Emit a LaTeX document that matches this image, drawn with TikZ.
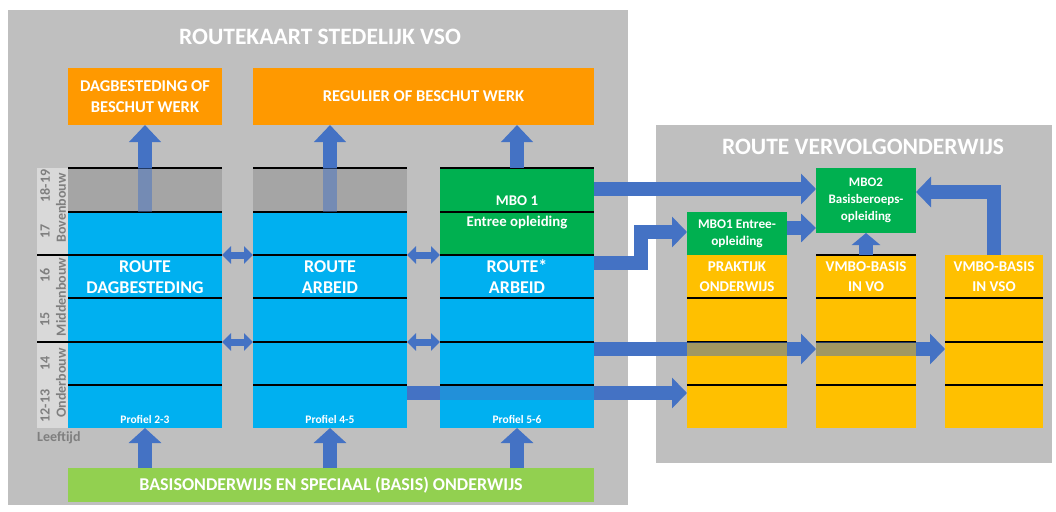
\documentclass[tikz,border=0pt]{standalone}
\usepackage{fontspec}
\setmainfont{Carlito}
\usetikzlibrary{arrows.meta}
\definecolor{panel}{HTML}{BFBFBF}
\definecolor{darkrow}{HTML}{A5A5A5}
\definecolor{skyb}{HTML}{00B0F0}
\definecolor{orng}{HTML}{FF9900}
\definecolor{ylw}{HTML}{FFC000}
\definecolor{grn}{HTML}{00B050}
\definecolor{lgrn}{HTML}{92D050}
\definecolor{arr}{HTML}{4472C4}
\definecolor{strip}{HTML}{D9D9D9}
\definecolor{agetxt}{HTML}{7F7F7F}
\begin{document}
\begin{tikzpicture}[x=1pt,y=-1pt,
  rect/.style={anchor=north west, inner sep=0pt, outer sep=0pt, draw=none},
  wtxt/.style={text=white, font=\bfseries, align=center, inner sep=0pt},
  rowline/.style={draw=black, line width=1.3pt},
  bigarr/.style={draw=arr, line width=14pt, line join=miter, -{Triangle[width=30pt,length=15pt]}},
  shaft/.style={draw=arr, line width=14pt},
  dblarr/.style={draw=arr, line width=7pt, {Triangle[width=17pt,length=9pt]}-{Triangle[width=17pt,length=9pt]}},
  band/.style={fill=arr, fill opacity=0.5},
  agelbl/.style={text=agetxt, font=\bfseries\fontsize{14}{16}\selectfont, rotate=90, inner sep=0pt}]
\useasboundingbox (0,0) rectangle (1056,511);
\fill[white] (0,0) rectangle (1056,511);
% panels
\node[rect, fill=panel, minimum width=620pt, minimum height=495pt] (lp) at (8,10) {};
\node[rect, fill=panel, minimum width=396pt, minimum height=338pt] (rp) at (656,125) {};
\node[wtxt, font=\bfseries\fontsize{23.5}{27}\selectfont] (t1) at (320,37) {ROUTEKAART STEDELIJK VSO};
\node[wtxt, font=\bfseries\fontsize{23.5}{27}\selectfont] (t2) at (863,147) {ROUTE VERVOLGONDERWIJS};
% orange boxes
\node[rect, fill=orng, minimum width=154pt, minimum height=57pt] (o1) at (68,68) {};
\node[rect, fill=orng, minimum width=341pt, minimum height=57pt] (o2) at (253,68) {};
\node[wtxt, font=\bfseries\fontsize{16.5}{21}\selectfont] at (o1.center) {DAGBESTEDING OF\\BESCHUT WERK};
\node[wtxt, font=\bfseries\fontsize{16.5}{21}\selectfont] at (o2.center) {REGULIER OF BESCHUT WERK};
% age strip
\node[rect, fill=strip, minimum width=31pt, minimum height=260pt] (st) at (37,168) {};
% columns
\node[rect, fill=skyb, minimum width=154pt, minimum height=260pt] (c1) at (68,168) {};
\node[rect, fill=skyb, minimum width=154pt, minimum height=260pt] (c2) at (253,168) {};
\node[rect, fill=skyb, minimum width=154pt, minimum height=260pt] (c3) at (440,168) {};
\node[rect, fill=darkrow, minimum width=154pt, minimum height=44pt] (g1) at (68,168) {};
\node[rect, fill=darkrow, minimum width=154pt, minimum height=44pt] (g2) at (253,168) {};
\node[rect, fill=grn, minimum width=154pt, minimum height=87pt] (g3) at (440,168) {};
\foreach \y in {168,212,255,298,342,385} {
  \draw[rowline] (68,\y) -- (222,\y);
  \draw[rowline] (253,\y) -- (407,\y);
  \draw[rowline] (440,\y) -- (594,\y);
}
\draw[rowline] (st.west |- 0,255) -- (68,255);
\draw[rowline] (st.west |- 0,342) -- (68,342);
% age labels
\node[agelbl] at (45,186) {18-19};
\node[agelbl] at (45,231) {17};
\node[agelbl] at (45,275) {16};
\node[agelbl] at (45,319) {15};
\node[agelbl] at (45,363) {14};
\node[agelbl] at (45,406) {12-13};
\node[agelbl] at (61,208) {Bovenbouw};
\node[agelbl] at (61,297) {Middenbouw};
\node[agelbl] at (61,383) {Onderbouw};
\node[text=agetxt, font=\bfseries\fontsize{14}{16}\selectfont, anchor=west, inner sep=0pt] at (37,438) {Leeftijd};
% column texts
\node[wtxt, font=\bfseries\fontsize{18}{21}\selectfont] at (145,277) {ROUTE\\DAGBESTEDING};
\node[wtxt, font=\bfseries\fontsize{18}{21}\selectfont] at (330,277) {ROUTE\\ARBEID};
\node[wtxt, font=\bfseries\fontsize{18}{21}\selectfont] at (517,277) {ROUTE*\\ARBEID};
\node[wtxt, font=\bfseries\fontsize{14.8}{21}\selectfont] at (517,212) {MBO 1\\Entree opleiding};
\node[wtxt, font=\bfseries\fontsize{11.5}{13}\selectfont] at (145,419) {Profiel 2-3};
\node[wtxt, font=\bfseries\fontsize{11.5}{13}\selectfont] at (330,419) {Profiel 4-5};
\node[wtxt, font=\bfseries\fontsize{11.5}{13}\selectfont] at (517,419) {Profiel 5-6};
% bottom box
\node[rect, fill=lgrn, minimum width=526pt, minimum height=34pt] (b) at (68,468) {};
\node[wtxt, font=\bfseries\fontsize{18}{21}\selectfont] at (b.center) {BASISONDERWIJS EN SPECIAAL (BASIS) ONDERWIJS};
% right columns
\node[rect, fill=ylw, minimum width=100pt, minimum height=173pt] (p) at (687,255) {};
\node[rect, fill=ylw, minimum width=100pt, minimum height=173pt] (v) at (816,255) {};
\node[rect, fill=ylw, minimum width=98pt, minimum height=173pt] (s) at (945,255) {};
\foreach \y in {298,342,385} {
  \draw[rowline] (687,\y) -- (787,\y);
  \draw[rowline] (816,\y) -- (916,\y);
  \draw[rowline] (945,\y) -- (1043,\y);
}
\draw[rowline] (816,255) -- (916,255);
\node[rect, fill=grn, minimum width=100pt, minimum height=43pt] (m1) at (687,212) {};
\node[rect, fill=grn, minimum width=100pt, minimum height=65pt] (m2) at (816,168) {};
\node[wtxt, font=\bfseries\fontsize{13.3}{17}\selectfont] at (m1.center) {MBO1 Entree-\\opleiding};
\node[wtxt, font=\bfseries\fontsize{13}{17}\selectfont] at (m2.center) {MBO2\\Basisberoeps-\\opleiding};
\node[wtxt, font=\bfseries\fontsize{15}{20}\selectfont] at (737,277) {PRAKTIJK\\ONDERWIJS};
\node[wtxt, font=\bfseries\fontsize{15}{20}\selectfont] at (866,277) {VMBO-BASIS\\IN VO};
\node[wtxt, font=\bfseries\fontsize{15}{20}\selectfont] at (994,277) {VMBO-BASIS\\IN VSO};
% vertical arrows to orange boxes
\draw[bigarr, -{Triangle[width=31pt,length=17pt]}] (g1.north) -- (o1.south);
\draw[bigarr, -{Triangle[width=31pt,length=17pt]}] (g2.north) -- (g2.north |- o2.south);
\draw[bigarr, -{Triangle[width=31pt,length=17pt]}] (g3.north) -- (g3.north |- o2.south);
\fill[band] ([xshift=-7pt]g1.north) rectangle ([xshift=7pt]g1.south);
\fill[band] ([xshift=-7pt]g2.north) rectangle ([xshift=7pt]g2.south);
% bottom arrows
\draw[bigarr, -{Triangle[width=32pt,length=15pt]}] (b.north -| c1.south) -- (c1.south);
\draw[bigarr, -{Triangle[width=32pt,length=15pt]}] (b.north -| c2.south) -- (c2.south);
\draw[bigarr, -{Triangle[width=32pt,length=15pt]}] (b.north -| c3.south) -- (c3.south);
% double arrows
\draw[dblarr] (c1.east |- 0,255) -- (c2.west |- 0,255);
\draw[dblarr] (c2.east |- 0,255) -- (c3.west |- 0,255);
\draw[dblarr] (c1.east |- 0,342) -- (c2.west |- 0,342);
\draw[dblarr] (c2.east |- 0,342) -- (c3.west |- 0,342);
% right-going arrows
\draw[bigarr] (g3.east |- 0,189) -- (m2.west |- 0,189);
\draw[bigarr] (c3.east |- 0,263) -| (641,232) -- (m1.west |- 0,232);
\draw[shaft] (c3.east |- 0,349) -- (p.west |- 0,349);
\fill[band] (p.west |- 0,342) rectangle (p.east |- 0,356);
\draw[bigarr] (p.east |- 0,349) -- (v.west |- 0,349);
\fill[band] (v.west |- 0,342) rectangle (v.east |- 0,356);
\draw[bigarr] (v.east |- 0,349) -- (s.west |- 0,349);
\draw[shaft] (c2.east |- 0,393) -- (c3.west |- 0,393);
\fill[band] (c3.west |- 0,386) rectangle (c3.east |- 0,400);
\draw[bigarr] (c3.east |- 0,393) -- (p.west |- 0,393);
\draw[bigarr, -{Triangle[width=28pt,length=15pt]}] (m1.east |- 0,228) -- (m2.west |- 0,228);
\draw[bigarr, -{Triangle[width=28pt,length=12pt]}] (v.north) -- (v.north |- m2.south);
\draw[bigarr] (s.north) |- (m2.east |- 0,192);
\end{tikzpicture}
\end{document}
